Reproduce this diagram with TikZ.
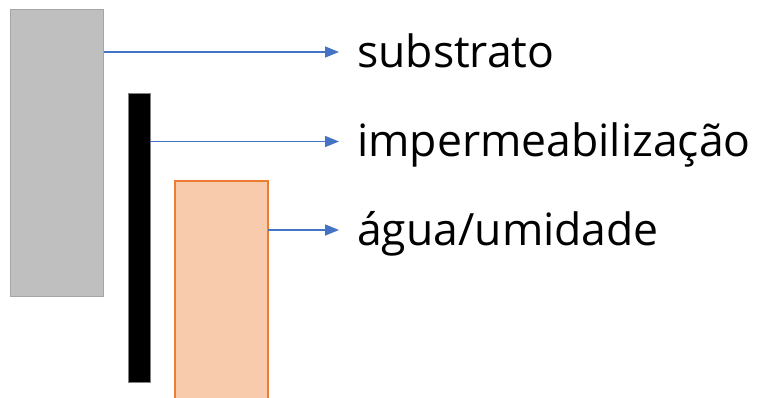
\documentclass[tikz,border=0pt]{standalone}
\usepackage{fontspec}
\setmainfont{Open Sans}
\usetikzlibrary{arrows.meta}
\definecolor{subfill}{HTML}{BFBFBF}
\definecolor{subdraw}{HTML}{A5A5A5}
\definecolor{orfill}{HTML}{F8CBAD}
\definecolor{ordraw}{HTML}{ED7D31}
\definecolor{arrblue}{HTML}{4472C4}
\tikzset{
  layer/.style={rectangle, inner sep=0pt, outer sep=0pt},
  arr/.style={draw=arrblue, line width=1.5pt, -{Triangle[length=14pt,width=11pt]}},
  lbl/.style={anchor=base west, inner sep=0pt, font=\fontsize{44.5}{50}\selectfont}
}
\begin{document}
\begin{tikzpicture}[x=1pt,y=-1pt]
\useasboundingbox[fill=white] (0,0) rectangle (761,397);
\begin{scope}
\clip (0,0) rectangle (761,397);
\node[layer, draw=subdraw, line width=1.8pt, fill=subfill, minimum width=93pt, minimum height=287pt] (sub) at (57,153) {};
\node[layer, draw=gray, line width=0.8pt, fill=black, minimum width=22pt, minimum height=289pt] (imp) at (139,237.5) {};
\node[layer, draw=ordraw, line width=2pt, fill=orfill, minimum width=93pt, minimum height=240pt] (agua) at (221,301) {};
\end{scope}
\coordinate (a1) at (339,52);
\coordinate (a2) at (339,141.5);
\coordinate (a3) at (339,230);
\node[lbl] (t1) at (357,67) {substrato};
\node[lbl] (t2) at (357,156) {impermeabilização};
\node[lbl] (t3) at (357,245) {água/umidade};
\draw[arr] (sub.east |- a1) -- (a1);
\draw[arr] (imp.east |- a2) -- (a2);
\draw[arr] (agua.east |- a3) -- (a3);
\end{tikzpicture}
\end{document}
